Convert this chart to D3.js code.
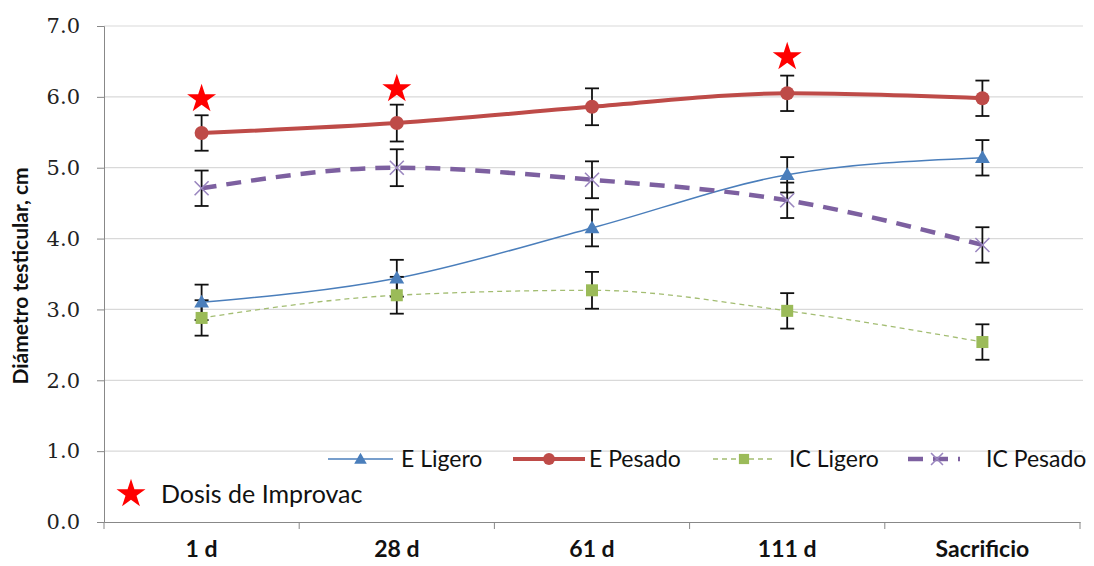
<!DOCTYPE html>
<html>
<head>
<meta charset="utf-8">
<script src="https://cdn.jsdelivr.net/npm/d3@7"></script>
<style>
	body { margin: 0; background: #fff; }
	svg { display: block; }
</style>
</head>
<body>
<svg id="chart" width="1094" height="566"></svg>
<script>
const categories = ['1 d', '28 d', '61 d', '111 d', 'Sacrificio'];
const eLigero = [3.10, 3.44, 4.15, 4.90, 5.14];
const ePesado = [5.49, 5.63, 5.86, 6.05, 5.98];
const icLigero = [2.88, 3.20, 3.27, 2.98, 2.54];
const icPesado = [4.71, 5.00, 4.83, 4.54, 3.91];
const errors = [0.25, 0.26, 0.26, 0.25, 0.25];
const starDoses = [{ cat: '1 d', value: 6.0 }, { cat: '28 d', value: 6.14 }, { cat: '111 d', value: 6.59 }];
const yTicks = [0, 1, 2, 3, 4, 5, 6, 7];

const series = [
	{ name: 'E Ligero', values: eLigero, colour: '#4a7ebb', width: 1.5, dash: null, marker: 'triangle' },
	{ name: 'E Pesado', values: ePesado, colour: '#be4b48', width: 4, dash: null, marker: 'circle' },
	{ name: 'IC Ligero', values: icLigero, colour: '#a3bd72', width: 1.3, dash: '5,4', marker: 'square' },
	{ name: 'IC Pesado', values: icPesado, colour: '#7d60a0', width: 4.5, dash: '15,10', marker: 'cross' }
];

const margin = { top: 26, right: 14, bottom: 44, left: 104 };
const width = 1094, height = 566;

const svg = d3.select('#chart');

const x = d3.scaleBand()
.domain(categories)
.range([margin.left, width - margin.right]);

const y = d3.scaleLinear()
.domain([0, 7])
.range([height - margin.bottom, margin.top]);

const cx = (c) => x(c) + x.bandwidth() / 2;

// grid
svg.append('g')
.selectAll('line')
.data(yTicks.filter(t => t > 0))
.enter()
.append('line')
.attr('x1', margin.left)
.attr('x2', width - margin.right + 3)
.attr('y1', d => y(d))
.attr('y2', d => y(d))
.attr('stroke', '#d9d9d9')
.attr('stroke-width', 1.2);

// y axis
const yAxis = svg.append('g')
.attr('transform', `translate(${margin.left},0)`)
.call(d3.axisLeft(y).tickValues(yTicks).tickFormat(d3.format('.1f')).tickSize(7).tickPadding(17));
yAxis.select('.domain').attr('stroke', '#888');
yAxis.selectAll('.tick line').attr('stroke', '#888');
yAxis.selectAll('.tick text')
.attr('fill', '#222')
.style('font-family', '"DejaVu Serif", serif')
.style('font-size', '21px');

// x axis
const xAxis = svg.append('g')
.attr('transform', `translate(0,${y(0)})`)
.call(d3.axisBottom(x).tickSize(0).tickPadding(19));
xAxis.select('.domain').attr('stroke', '#888').attr('stroke-width', 1.2);
xAxis.selectAll('.tick text')
.attr('fill', '#111')
.style('font-family', 'Lato, sans-serif')
.style('font-weight', 'bold')
.style('font-size', '23px');

// boundary ticks between categories
svg.append('g')
.selectAll('line')
.data(d3.range(categories.length + 1))
.enter()
.append('line')
.attr('x1', i => margin.left + i * x.bandwidth())
.attr('x2', i => margin.left + i * x.bandwidth())
.attr('y1', y(0))
.attr('y2', y(0) + 7)
.attr('stroke', '#888');

// y title
svg.append('text')
.attr('transform', `translate(28,${(y(0) + y(7)) / 2 + 2}) rotate(-90)`)
.attr('text-anchor', 'middle')
.style('font-family', 'Lato, sans-serif')
.style('font-weight', 'bold')
.style('font-size', '21px')
.attr('fill', '#111')
.text('Diámetro testicular, cm');

const line = d3.line()
.x((d, i) => cx(categories[i]))
.y(d => y(d))
.curve(d3.curveMonotoneX);

const star = d3.symbol().type(d3.symbolStar).size(260);

function drawMarker(g, type, colour, px, py, scale) {
	const s = scale || 1;
	if (type === 'circle') {
		g.append('circle').attr('cx', px).attr('cy', py).attr('r', 7 * s).attr('fill', colour);
	} else if (type === 'triangle') {
		g.append('path')
		.attr('d', d3.symbol().type(d3.symbolTriangle).size(95 * s * s)())
		.attr('transform', `translate(${px},${py + 1})`)
		.attr('fill', colour);
	} else if (type === 'square') {
		const h = 6 * s;
		g.append('rect').attr('x', px - h).attr('y', py - h).attr('width', 2 * h).attr('height', 2 * h).attr('fill', '#9bbb59');
	} else if (type === 'cross') {
		const h = 7 * s;
		g.append('path')
		.attr('d', `M${px - h},${py - h}L${px + h},${py + h}M${px - h},${py + h}L${px + h},${py - h}`)
		.attr('stroke', '#9a86bf')
		.attr('stroke-width', 1.6)
		.attr('fill', 'none');
	}
}

// series lines
series.forEach(s => {
	svg.append('path')
	.datum(s.values)
	.attr('d', line)
	.attr('fill', 'none')
	.attr('stroke', s.colour)
	.attr('stroke-width', s.width)
	.attr('stroke-dasharray', s.dash);
});

// error bars
series.forEach(s => {
	const g = svg.append('g').attr('stroke', '#111').attr('stroke-width', 1.8);
	s.values.forEach((v, i) => {
		const px = cx(categories[i]);
		const top = y(v + errors[i]);
		const bot = y(v - errors[i]);
		g.append('line').attr('x1', px).attr('x2', px).attr('y1', top).attr('y2', bot);
		g.append('line').attr('x1', px - 7).attr('x2', px + 7).attr('y1', top).attr('y2', top);
		g.append('line').attr('x1', px - 7).attr('x2', px + 7).attr('y1', bot).attr('y2', bot);
	});
});

// markers
series.forEach(s => {
	const g = svg.append('g');
	s.values.forEach((v, i) => drawMarker(g, s.marker, s.colour, cx(categories[i]), y(v)));
});

// Improvac stars
svg.append('g')
.selectAll('path')
.data(starDoses)
.enter()
.append('path')
.attr('d', star)
.attr('transform', d => `translate(${cx(d.cat)},${y(d.value) + 2})`)
.attr('fill', '#ff0000');

// legend
const legendItems = [
	{ s: series[0], x0: 328, x1: 393, tx: 401 },
	{ s: series[1], x0: 513, x1: 585, tx: 589 },
	{ s: series[2], x0: 713, x1: 775, tx: 789 },
	{ s: series[3], x0: 908, x1: 960, tx: 986 }
];
const ly = 459;
const legend = svg.append('g');
legendItems.forEach(it => {
	legend.append('line')
	.attr('x1', it.x0).attr('x2', it.x1)
	.attr('y1', ly).attr('y2', ly)
	.attr('stroke', it.s.colour)
	.attr('stroke-width', it.s.width)
	.attr('stroke-dasharray', it.s.dash);
	drawMarker(legend, it.s.marker, it.s.colour, (it.x0 + it.x1) / 2 + (it.s.marker === 'cross' ? 3 : 0), ly, 0.85);
	legend.append('text')
	.attr('x', it.tx)
	.attr('y', ly + 8)
	.style('font-family', 'Lato, sans-serif')
	.style('font-size', '23px')
	.attr('fill', '#111')
	.text(it.s.name);
});

legend.append('path')
.attr('d', star)
.attr('transform', `translate(131,${ly + 35})`)
.attr('fill', '#ff0000');
legend.append('text')
.attr('x', 161)
.attr('y', ly + 44)
.style('font-family', 'Lato, sans-serif')
.style('font-size', '25px')
.attr('fill', '#111')
.text('Dosis de Improvac');
</script>
</body>
</html>
